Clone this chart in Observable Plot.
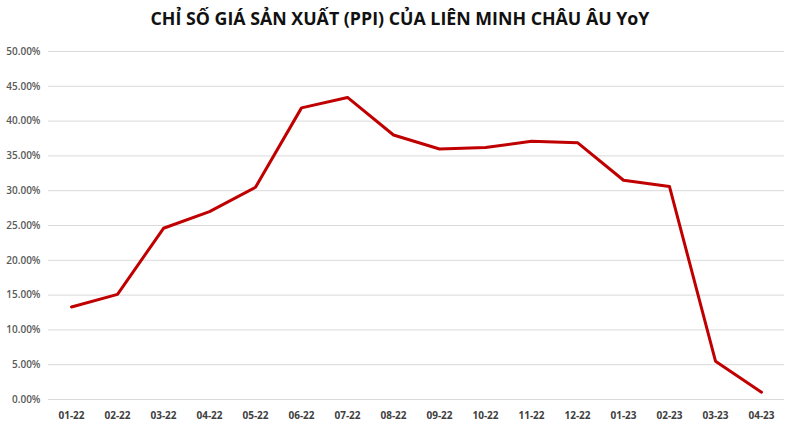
<!DOCTYPE html>
<html>
<head>
<meta charset="utf-8">
<script src="https://cdn.jsdelivr.net/npm/d3@7"></script>
<script src="https://cdn.jsdelivr.net/npm/@observablehq/plot@0.6"></script>
<style>
  html, body { margin: 0; padding: 0; background: #fff; }
  #wrap { width: 800px; height: 440px; overflow: hidden; }
  h1 { margin: 0; height: 35px; line-height: 37px; text-align: center; font-family: "Open Sans", sans-serif; font-weight: 700; font-size: 17.8px; color: #111; letter-spacing: 0; }
</style>
</head>
<body>
<div id="wrap">
<h1>CHỈ SỐ GIÁ SẢN XUẤT (PPI) CỦA LIÊN MINH CHÂU ÂU YoY</h1>
<div id="chart"></div>
</div>
<script>
const months = ["01-22","02-22","03-22","04-22","05-22","06-22","07-22","08-22","09-22","10-22","11-22","12-22","01-23","02-23","03-23","04-23"];
const ppi = [13.3, 15.1, 24.6, 27.0, 30.5, 41.9, 43.4, 38.0, 36.0, 36.2, 37.1, 36.9, 31.5, 30.6, 5.5, 1.05];
const yTicks = [0, 5, 10, 15, 20, 25, 30, 35, 40, 45, 50];

const data = months.map((m, i) => ({month: m, value: ppi[i]}));

const chart = Plot.plot({
  width: 800,
  height: 405,
  marginTop: 16,
  marginBottom: 41,
  marginLeft: 48,
  marginRight: 16,
  style: { fontFamily: "'Open Sans', sans-serif", fontSize: "10px", color: "#595959", background: "#fff" },
  x: { type: "point", domain: months, padding: 0.5, label: null },
  y: { domain: [0, 50], label: null },
  marks: [
    Plot.gridY(yTicks, { stroke: "#d9d9d9", strokeOpacity: 1, strokeWidth: 1 }),
    Plot.axisY(yTicks, { tickSize: 0, tickPadding: 8, tickFormat: d => d.toFixed(2) + "%", fontWeight: 600, fill: "#595959" }),
    Plot.axisX({ tickSize: 0, tickPadding: 12, fontWeight: 700, fill: "#404040" }),
    Plot.line(data, { x: "month", y: "value", stroke: "#C00000", strokeWidth: 3, strokeLinejoin: "round", strokeLinecap: "round" })
  ]
});
document.getElementById("chart").appendChild(chart);
</script>
</body>
</html>
